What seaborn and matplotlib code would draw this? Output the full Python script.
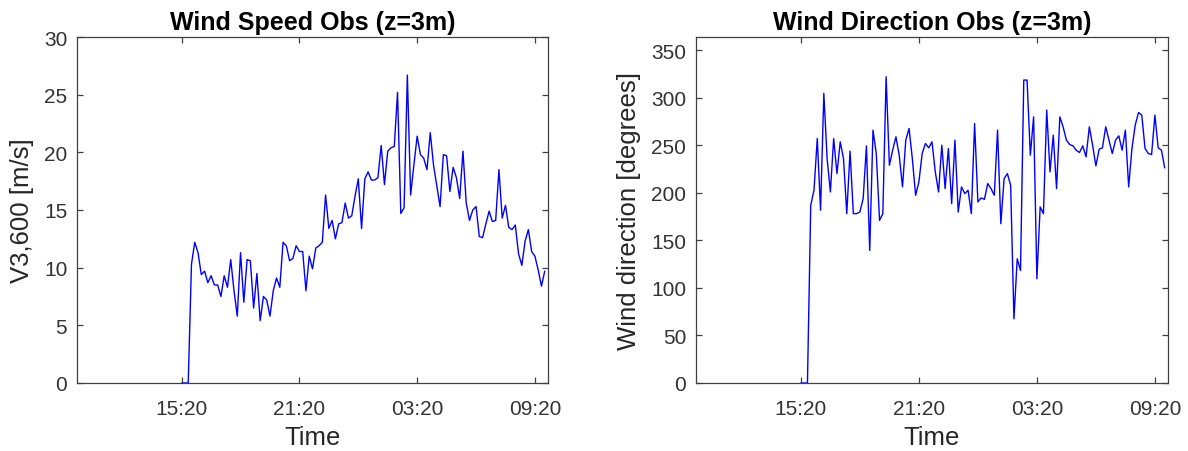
import numpy as np
import pandas as pd
import matplotlib
matplotlib.use("Agg")
import matplotlib.pyplot as plt
import seaborn as sns

# ---- data (10-minute samples, time in hours from midnight of day 1) ----
start_hour = 15 + 20 / 60          # first sample 15:20
step_hours = 10 / 60
zeros_lead = [0.0, 0.0, 0.0]

speed = zeros_lead + [
    10.3, 12.2, 11.3, 9.4, 9.7, 8.7, 9.3, 8.5, 8.5, 7.5, 9.3, 8.3, 10.7, 8.0, 5.8,
    11.3, 7.0, 10.7, 10.6, 6.5, 9.5, 5.4, 7.5, 7.2, 5.8, 8.0, 9.1, 8.3, 12.2, 11.9,
    10.6, 10.8, 11.9, 11.4, 11.4, 8.0, 11.0, 9.9, 11.7, 11.9, 12.2, 16.3, 13.4, 14.1,
    12.5, 13.8, 13.9, 15.6, 14.3, 14.5, 16.2, 17.7, 13.4, 17.7, 18.3,
    17.6, 17.6, 17.8, 20.6, 17.2, 20.1, 20.4, 20.5, 25.2, 14.7, 15.2, 26.7, 16.3,
    18.9, 21.4, 19.8, 19.5, 18.5, 21.7, 18.9, 17.1, 15.3, 19.8, 19.7, 16.6, 18.7,
    17.8, 16.0, 20.1, 15.6, 14.1, 15.0, 15.3, 12.7, 12.6, 13.8, 14.9, 14.0, 14.1,
    18.5, 14.3, 15.4, 13.5, 13.3, 13.7, 11.2, 10.2, 12.3, 13.3, 11.4, 11.0, 9.8,
    8.4, 9.7,
]

direction = zeros_lead + [
    186.9, 202.8, 257.2, 181.7, 304.7, 236.1, 201.0, 257.2, 220.3, 253.7, 236.1,
    178.2, 243.9, 178.2, 178.2, 180.0, 194.0, 249.5, 139.5, 266.0, 241.4, 171.1,
    178.2, 322.2, 229.1, 245.0, 259.0, 239.6, 206.3, 255.5, 267.8, 236.1, 197.5,
    211.5, 241.4, 252.0, 247.4, 253.7, 222.1, 201.0, 250.2, 204.5, 246.7, 188.7,
    255.5, 179.9, 206.3, 199.2, 202.8, 178.2, 273.0, 190.5, 194.7, 193.2, 209.8,
    204.5, 197.5, 266.0, 167.6, 215.0, 220.3, 208.0, 67.5, 130.7, 118.4, 318.7,
    318.7, 239.6, 280.0, 109.6, 185.2, 178.2, 287.1, 222.1, 260.7, 204.5, 280.0,
    269.5, 255.5, 250.9, 249.5, 244.9, 242.5, 249.5, 237.9, 269.5, 250.2, 228.4,
    246.0, 247.4, 269.5, 255.5, 241.4, 255.5, 260.0, 244.9, 266.0, 206.3, 246.7,
    271.3, 284.6, 281.8, 246.7, 241.4, 240.4, 281.8, 247.4, 244.9, 226.3,
]

tick_hours = [15 + 20 / 60, 21 + 20 / 60, 27 + 20 / 60, 33 + 20 / 60]
tick_labels = ["15:20", "21:20", "03:20", "09:20"]
x_limits = [10, 34]

hours = start_hour + step_hours * np.arange(len(speed))
df = pd.DataFrame({"Time": hours, "speed": speed, "direction": direction})

# ---- style ----
sns.set_style("white")
plt.rcParams["font.family"] = ["Liberation Sans", "DejaVu Sans"]
dark = "#262626"
spine_col = "#404040"
tick_text = "#333333"

fig = plt.figure(figsize=(11.88, 4.52), dpi=100)
ax1 = fig.add_axes([77 / 1188, 68 / 452, 471 / 1188, 346 / 452])
ax2 = fig.add_axes([696 / 1188, 68 / 452, 472 / 1188, 346 / 452])

sns.lineplot(data=df, x="Time", y="speed", ax=ax1, color="#0000ff", linewidth=1.0)
sns.lineplot(data=df, x="Time", y="direction", ax=ax2, color="#0000ff", linewidth=1.0)

for ax, title, ylabel, ylim, yticks in [
    (ax1, "Wind Speed Obs (z=3m)", "V3,600 [m/s]", (0, 30), np.arange(0, 31, 5)),
    (ax2, "Wind Direction Obs (z=3m)", "Wind direction [degrees]", (0, 364), np.arange(0, 351, 50)),
]:
    ax.set_xlim(*x_limits)
    ax.set_ylim(*ylim)
    ax.set_xticks(tick_hours)
    ax.set_xticklabels(tick_labels)
    ax.set_yticks(yticks)
    ax.set_title(title, fontsize=18, fontweight="bold", color="black", pad=6)
    ax.set_xlabel("Time", fontsize=18.5, color=dark, labelpad=5)
    ax.set_ylabel(ylabel, fontsize=18.5, color=dark, labelpad=7)
    for s in ax.spines.values():
        s.set_visible(True)
        s.set_color(spine_col)
        s.set_linewidth(0.9)
    ax.tick_params(axis="both", which="both", direction="in", length=4.5, width=0.9,
                   color=spine_col, labelcolor=tick_text, labelsize=15,
                   top=True, right=True, bottom=True, left=True)
    ax.tick_params(axis="x", pad=11.5)
    ax.tick_params(axis="y", pad=7)

fig.savefig("out.png", dpi=100)
